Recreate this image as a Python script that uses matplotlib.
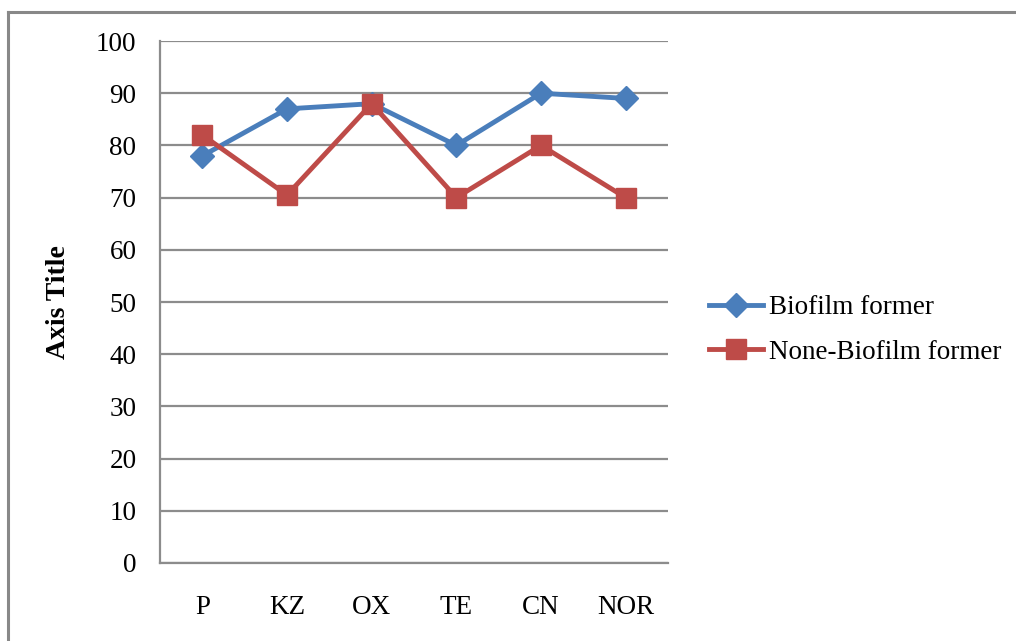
import matplotlib.pyplot as plt
from matplotlib.lines import Line2D

antibiotics = ["P", "KZ", "OX", "TE", "CN", "NOR"]
biofilm = [78, 87, 88, 80, 90, 89]
non_biofilm = [82, 70.5, 88, 70, 80, 70]

plt.rcParams["font.family"] = ["Liberation Serif", "DejaVu Serif"]

fig = plt.figure(figsize=(10.16, 6.41), dpi=100)
ax = fig.add_axes([0.1575, 0.1217, 0.5, 0.8143])

x = range(len(antibiotics))
ax.plot(x, biofilm, color="#4A7EBB", lw=3.5, marker="D", ms=12,
        label="Biofilm former", zorder=3)
ax.plot(x, non_biofilm, color="#BE4B48", lw=3.5, marker="s", ms=14.5,
        label="None-Biofilm former", zorder=3)

ax.set_xlim(-0.5, len(antibiotics) - 0.5)
ax.set_ylim(0, 100)
ax.set_yticks(range(0, 101, 10))
ax.set_xticks(list(x))
ax.set_xticklabels(antibiotics)
ax.tick_params(length=0, labelsize=19.5)
ax.tick_params(axis="y", pad=17)
ax.tick_params(axis="x", pad=23)

ax.yaxis.grid(True, color="#8C8C8C", lw=1.6)
ax.set_axisbelow(True)
for side in ["top", "right"]:
    ax.spines[side].set_visible(False)
for side in ["left", "bottom"]:
    ax.spines[side].set_color("#8C8C8C")
    ax.spines[side].set_linewidth(1.6)

fig.text(0.058, 1 - 302 / 641, "Axis Title", rotation=90, fontsize=20,
         fontweight="bold", ha="center", va="center")

fig.legend(loc="center left", bbox_to_anchor=(0.698, 1 - 330 / 641),
           frameon=False, fontsize=19.5, handlelength=2.0, handletextpad=0.22,
           labelspacing=0.72, borderpad=0, borderaxespad=0)

# chart frame
fig.add_artist(Line2D([8 / 1016, 1], [1 - 12 / 641, 1 - 12 / 641],
                      transform=fig.transFigure, color="#888888", lw=2.2))
fig.add_artist(Line2D([8 / 1016, 8 / 1016], [0, 1 - 12 / 641],
                      transform=fig.transFigure, color="#888888", lw=2.2))

fig.savefig("out.png", dpi=100)
